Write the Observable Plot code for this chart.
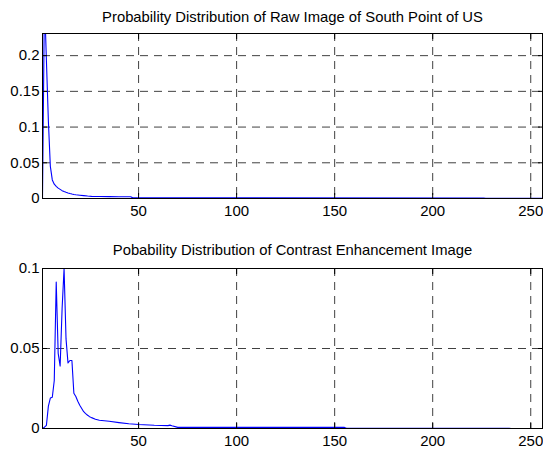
<!DOCTYPE html>
<html>
<head>
<meta charset="utf-8">
<script src="https://cdn.jsdelivr.net/npm/d3@7"></script>
<script src="https://cdn.jsdelivr.net/npm/@observablehq/plot@0.6"></script>
<style>
  html, body { margin: 0; padding: 0; background: #fff; }
  #chart svg { display: block; }
</style>
</head>
<body>
<div id="chart"></div>
<script>
// ---- data ----
const xTicks = [50, 100, 150, 200, 250];

const rawTitle = "Probability Distribution of Raw Image of South Point of US";
const rawX = [1, 2, 3, 4, 5, 6, 7, 8, 9, 10, 11, 12, 13, 14, 15, 16, 17, 18, 20, 22, 24, 26, 28, 30, 35, 40, 46, 47, 226, 227, 256];
const rawY = [0, 0.28, 0.193, 0.108, 0.045, 0.026, 0.020, 0.017, 0.0145, 0.0128, 0.011, 0.0097, 0.0087, 0.0078, 0.007, 0.0063, 0.0057, 0.0052, 0.0046, 0.0040, 0.0034, 0.0030, 0.0028, 0.0027, 0.0026, 0.0025, 0.0024, 0.0009, 0.0008, 0.0002, 0.0002];
const rawYTicks = [0, 0.05, 0.1, 0.15, 0.2];
const rawYLabels = ["0", "0.05", "0.1", "0.15", "0.2"];
const rawYMax = 0.231;

const enhTitle = "Pobability Distribution of Contrast Enhancement Image";
const enhX = [1, 2, 3, 4, 5, 6, 7, 8, 9, 10, 11, 12, 13, 14, 15, 16, 17, 18, 19, 20, 21, 22, 23, 24, 25, 26, 28, 30, 35, 40, 45, 50, 58, 65, 66, 67, 70, 155, 156, 239, 240, 256];
const enhY = [0, 0.0008, 0.002, 0.014, 0.019, 0.0195, 0.030, 0.0915, 0.047, 0.039, 0.075, 0.100, 0.056, 0.041, 0.0425, 0.0425, 0.022, 0.020, 0.017, 0.0145, 0.0125, 0.0105, 0.0093, 0.0083, 0.0074, 0.0068, 0.0058, 0.0052, 0.0045, 0.0037, 0.0030, 0.0025, 0.0020, 0.0018, 0.0021, 0.0017, 0.0007, 0.0007, 0.0001, 0.0001, 0, 0];
const enhYTicks = [0, 0.05, 0.1];
const enhYLabels = ["0", "0.05", "0.1"];
const enhYMax = 0.1;

function panel({xs, ys, yMax, yTicks, yLabels, title, height, marginTop, marginBottom, titleDy}) {
  const data = xs.map((x, i) => ({x, y: ys[i]}));
  const gridStyle = {stroke: "#000", strokeOpacity: 0.75, strokeWidth: 1, strokeDasharray: "8,6"};
  return Plot.plot({
    width: 543,
    height,
    marginLeft: 42,
    marginRight: 1,
    marginTop,
    marginBottom,
    style: {fontFamily: "'Liberation Sans', Arial, sans-serif", fontSize: "15px", color: "#000", background: "#fff", overflow: "visible"},
    x: {domain: [1, 256], label: null},
    y: {domain: [0, yMax], label: null},
    marks: [
      Plot.gridX(xTicks, gridStyle),
      Plot.gridY(yTicks, gridStyle),
      Plot.line(data, {x: "x", y: "y", stroke: "#0000ff", strokeWidth: 1.1, clip: true}),
      Plot.axisX(xTicks, {anchor: "bottom", tickSize: 0, tickPadding: 7, fontSize: 15, label: null}),
      Plot.axisX(xTicks, {anchor: "bottom", tickSize: -5, tickFormat: () => "", label: null}),
      Plot.axisX(xTicks, {anchor: "top", tickSize: -5, tickFormat: () => "", label: null}),
      Plot.axisY(yTicks, {anchor: "left", tickSize: 0, tickPadding: 3, fontSize: 15, label: null,
        tickFormat: d => yLabels[yTicks.indexOf(d)]}),
      Plot.axisY(yTicks, {anchor: "left", tickSize: -5, tickFormat: () => "", label: null}),
      Plot.axisY(yTicks, {anchor: "right", tickSize: -5, tickFormat: () => "", label: null}),
      Plot.frame({stroke: "#000", strokeWidth: 1}),
      Plot.text([title], {frameAnchor: "top", lineAnchor: "bottom", dy: titleDy, fontSize: 14.8, fill: "#000"})
    ]
  });
}

const root = document.getElementById("chart");
root.append(panel({
  xs: rawX, ys: rawY, yMax: rawYMax, yTicks: rawYTicks, yLabels: rawYLabels, title: rawTitle,
  height: 222, marginTop: 33, marginBottom: 24, titleDy: -11.3
}));
root.append(panel({
  xs: enhX, ys: enhY, yMax: enhYMax, yTicks: enhYTicks, yLabels: enhYLabels, title: enhTitle,
  height: 227, marginTop: 46, marginBottom: 21, titleDy: -13.3
}));
</script>
</body>
</html>
